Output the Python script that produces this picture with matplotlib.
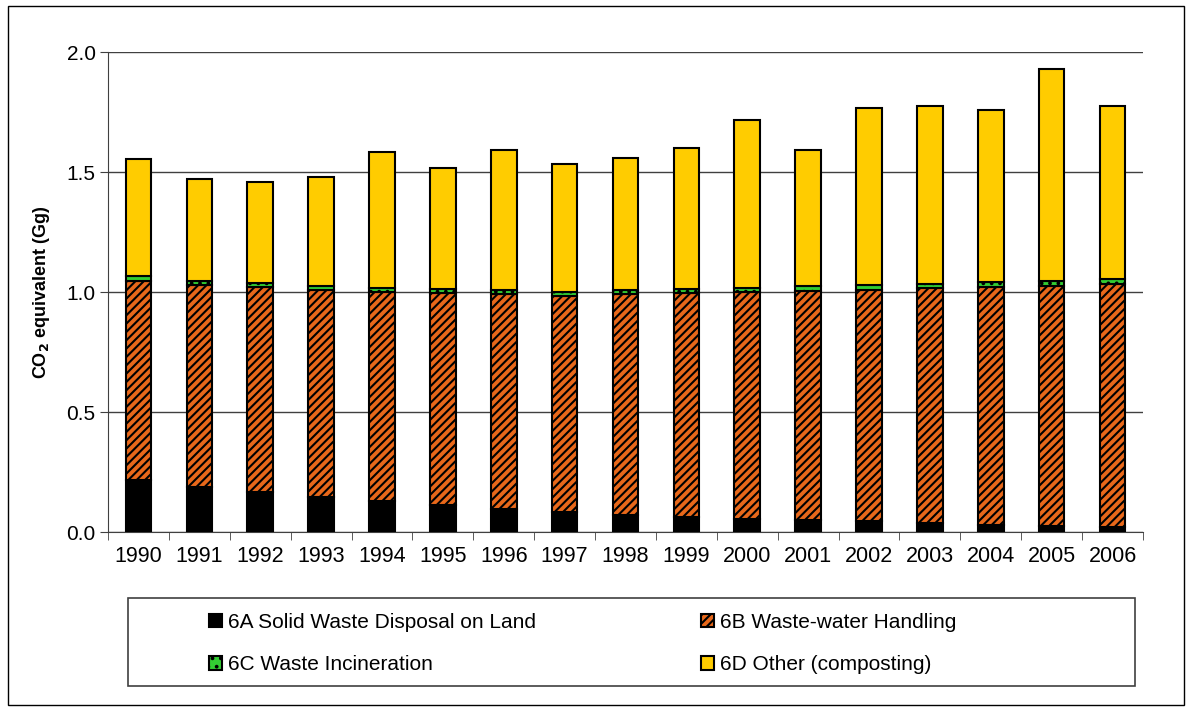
import numpy as np
import matplotlib
matplotlib.use('Agg')
from matplotlib import pyplot as plt
from matplotlib.patches import Rectangle

years = [str(y) for y in range(1990, 2007)]
solid_waste = [0.217, 0.189, 0.165, 0.145, 0.130, 0.113, 0.095, 0.082, 0.072,
               0.063, 0.053, 0.048, 0.044, 0.037, 0.030, 0.026, 0.022]
waste_water_top = [1.047, 1.029, 1.020, 1.008, 1.000, 0.995, 0.990, 0.983, 0.990,
                   0.995, 1.000, 1.005, 1.010, 1.015, 1.022, 1.025, 1.032]
incineration = [0.020, 0.018, 0.018, 0.018, 0.018, 0.018, 0.017, 0.017, 0.018,
                0.018, 0.018, 0.019, 0.019, 0.020, 0.020, 0.021, 0.021]
totals = [1.553, 1.470, 1.457, 1.481, 1.585, 1.517, 1.591, 1.534, 1.557,
          1.598, 1.718, 1.591, 1.766, 1.775, 1.757, 1.929, 1.777]

waste_water = [t - s for t, s in zip(waste_water_top, solid_waste)]
other = [tot - t - c for tot, t, c in zip(totals, waste_water_top, incineration)]

plt.rcParams['font.family'] = ['Liberation Sans', 'DejaVu Sans']
plt.rcParams['hatch.linewidth'] = 1.5

fig = plt.figure(figsize=(11.9, 7.11), dpi=100)
ax = fig.add_axes([108/1190, 1 - 532/711, (1143-108)/1190, (532-52)/711])

x = np.arange(len(years))
w = 0.42
b1 = np.array(solid_waste)
b2 = b1 + np.array(waste_water)
b3 = b2 + np.array(incineration)

ax.bar(x, solid_waste, w, color='black', edgecolor='black', linewidth=1.5,
       label='6A Solid Waste Disposal on Land', zorder=3)
ax.bar(x, waste_water, w, bottom=b1, color='#E8681A', edgecolor='black', hatch='////',
       linewidth=1.5, label='6B Waste-water Handling', zorder=3)
ax.bar(x, incineration, w, bottom=b2, color='#33CC33', edgecolor='black', hatch='..',
       linewidth=1.5, label='6C Waste Incineration', zorder=3)
ax.bar(x, other, w, bottom=b3, color='#FFCC00', edgecolor='black',
       linewidth=1.5, label='6D Other (composting)', zorder=3)

ax.set_xlim(-0.5, len(years) - 0.5)
ax.set_ylim(0, 2.0)
ax.set_yticks([0, 0.5, 1.0, 1.5, 2.0])
ax.set_yticklabels(['0.0', '0.5', '1.0', '1.5', '2.0'], fontsize=15)
ax.set_xticks(x)
ax.set_xticklabels(years, fontsize=15.5)
ax.set_xticks(np.arange(-0.5, len(years)), minor=True)
ax.tick_params(axis='x', which='major', length=0, pad=10)
ax.tick_params(axis='x', which='minor', length=6, direction='out', color='#404040')
ax.tick_params(axis='y', length=6, direction='out', color='#404040', pad=3)
ax.grid(axis='y', color='#404040', linewidth=1, zorder=0)
for s in ['top', 'right']:
    ax.spines[s].set_visible(False)
for s in ['left', 'bottom']:
    ax.spines[s].set_color('#404040')
ax.set_ylabel('CO$_\\mathbf{2}$ equivalent (Gg)', fontsize=13, fontweight='bold', labelpad=10)

handles, labels = ax.get_legend_handles_labels()
order = [0, 2, 1, 3]
leg = fig.legend([handles[i] for i in order], [labels[i] for i in order],
                 loc='upper left', ncol=2, fontsize=15, frameon=False,
                 bbox_to_anchor=(209/1190, 1 - 613/711), borderpad=0, borderaxespad=0,
                 handlelength=0.63, handleheight=0.63, handletextpad=0.3,
                 columnspacing=7.9, labelspacing=1.12)

fig.patches.append(Rectangle((128/1190, 1 - 686/711), (1135-128)/1190, (686-598)/711,
                             transform=fig.transFigure, fill=False,
                             edgecolor='#404040', linewidth=1.2))
fig.patches.append(Rectangle((8/1190, 6/711), (1184-8)/1190, (705-6)/711,
                             transform=fig.transFigure, fill=False,
                             edgecolor='black', linewidth=1))

plt.savefig('out.png', dpi=100)
